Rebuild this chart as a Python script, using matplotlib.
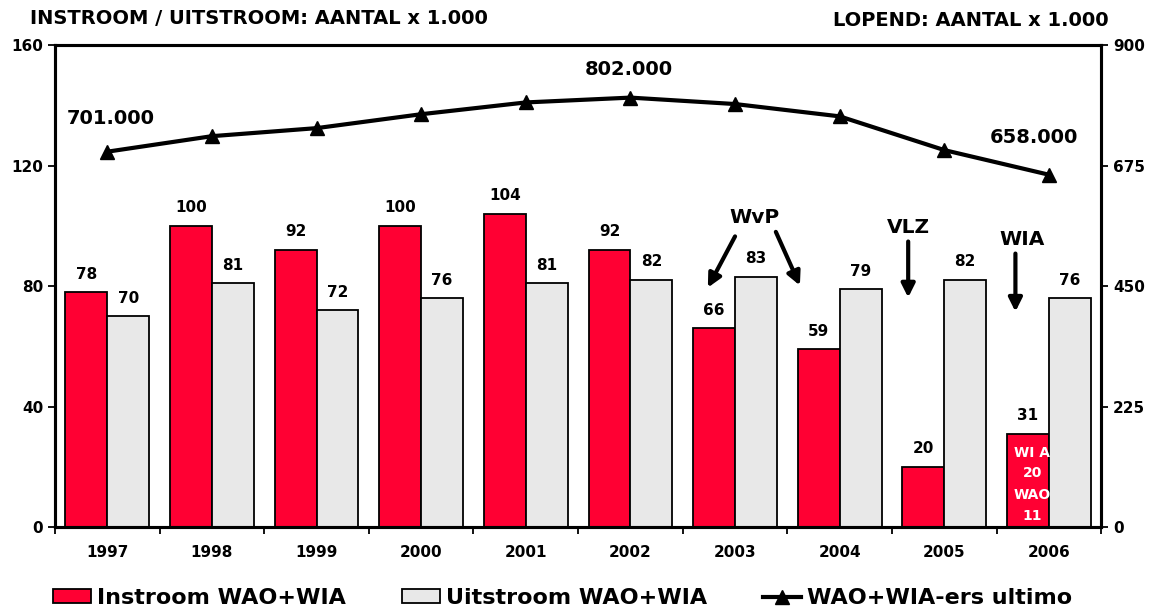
import matplotlib.pyplot as plt
import numpy as np
from matplotlib.lines import Line2D
from matplotlib.patches import Patch

jaren = ['1997', '1998', '1999', '2000', '2001', '2002', '2003', '2004', '2005', '2006']
instroom = [78, 100, 92, 100, 104, 92, 66, 59, 20, 31]
uitstroom = [70, 81, 72, 76, 81, 82, 83, 79, 82, 76]
lopend = [701, 730, 745, 771, 793, 802, 790, 767, 704, 658]
lopend_labels = {0: '701.000', 5: '802.000', 9: '658.000'}
split_2006 = [('WI A', 24.5), ('20', 18.0), ('WAO', 10.8), ('11', 3.8)]

rood = '#FF0033'
grijs = '#E8E8E8'

plt.rcParams['font.family'] = 'DejaVu Sans'
plt.rcParams['font.weight'] = 'bold'

fig = plt.figure(figsize=(11.56, 6.10), dpi=100)
ax = fig.add_axes([0.0476, 0.136, 0.905, 0.790])
ax2 = ax.twinx()

x = np.arange(len(jaren))
w = 0.4
ax.bar(x - w/2, instroom, w, color=rood, edgecolor='black', linewidth=1.3, zorder=2)
ax.bar(x + w/2, uitstroom, w, color=grijs, edgecolor='black', linewidth=1.3, zorder=2)

for i in range(len(jaren)):
    ax.text(x[i] - w/2, instroom[i] + 6, str(instroom[i]), ha='center', va='center',
            fontsize=11, fontweight='bold')
    ax.text(x[i] + w/2, uitstroom[i] + 6, str(uitstroom[i]), ha='center', va='center',
            fontsize=11, fontweight='bold')

# opsplitsing 2006
for txt, yy in split_2006:
    ax.text(9 - w/2 + 0.04, yy, txt, ha='center', va='center', color='white',
            fontsize=10, fontweight='bold', zorder=4)

ax.set_xlim(-0.5, len(jaren) - 0.5)
ax.set_ylim(0, 160)
ax.set_yticks([0, 40, 80, 120, 160])
ax.set_xticks(np.arange(-0.5, len(jaren), 1.0))
ax.set_xticklabels([])
ax.set_xticks(x, minor=True)
ax.set_xticklabels(jaren, minor=True, fontsize=11, fontweight='bold')
ax.tick_params(axis='x', which='minor', length=0, pad=13)
ax.tick_params(axis='x', which='major', length=5, width=1.3)
ax.tick_params(axis='y', length=5, width=1.3, labelsize=11)

ax2.plot(x, lopend, color='black', linewidth=3, marker='^', markersize=10, zorder=3)
ax2.set_ylim(0, 900)
ax2.set_yticks([0, 225, 450, 675, 900])
ax2.tick_params(axis='y', length=5, width=1.3, labelsize=11)
for i, lab in lopend_labels.items():
    dx = {0: 0.035, 5: -0.02, 9: -0.14}[i]
    dy = {0: 62, 5: 53, 9: 70}[i]
    ax2.text(x[i] + dx, lopend[i] + dy, lab, ha='center', va='center', fontsize=14, fontweight='bold')

for a in (ax, ax2):
    for s in a.spines.values():
        s.set_linewidth(2.2)

# pijlen
akw = dict(arrowstyle='-|>,head_width=0.4,head_length=0.8', color='black', lw=3, shrinkA=0, shrinkB=0)
ax.text(6.19, 102.8, 'WvP', ha='center', va='center', fontsize=14.5, fontweight='bold')
ax.annotate('', xy=(5.74, 79.5), xytext=(6.0, 96.5), arrowprops=akw)
ax.annotate('', xy=(6.62, 80.2), xytext=(6.39, 98.0), arrowprops=akw)
ax.text(7.655, 99.5, 'VLZ', ha='center', va='center', fontsize=14.5, fontweight='bold')
ax.annotate('', xy=(7.655, 76.2), xytext=(7.655, 94.8), arrowprops=akw)
ax.text(8.745, 95.5, 'WIA', ha='center', va='center', fontsize=14.5, fontweight='bold')
ax.annotate('', xy=(8.68, 71.5), xytext=(8.68, 90.8), arrowprops=akw)

fig.text(0.026, 0.969, 'INSTROOM / UITSTROOM: AANTAL x 1.000', ha='left', va='center',
         fontsize=14, fontweight='bold')
fig.text(0.959, 0.966, 'LOPEND: AANTAL x 1.000', ha='right', va='center',
         fontsize=14, fontweight='bold')

handles = [Patch(facecolor=rood, edgecolor='black', linewidth=1.3),
           Patch(facecolor=grijs, edgecolor='black', linewidth=1.3),
           Line2D([], [], color='black', linewidth=3, marker='^', markersize=10)]
labels = ['Instroom WAO+WIA', 'Uitstroom WAO+WIA', 'WAO+WIA-ers ultimo']
fig.legend(handles, labels, loc='center left', bbox_to_anchor=(53 / 1156, 0.02), ncol=3,
           frameon=False, prop={'size': 16, 'weight': 'bold'}, borderpad=0, borderaxespad=0,
           handlelength=1.7, handleheight=0.55, handletextpad=0.3, columnspacing=2.5)

fig.savefig('out.png', dpi=100)
